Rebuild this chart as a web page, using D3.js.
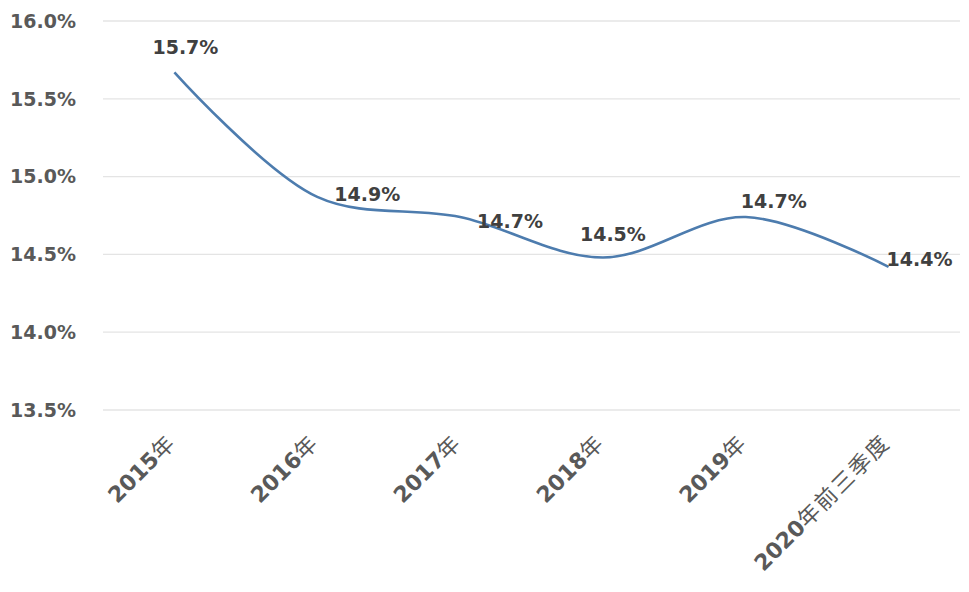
<!DOCTYPE html>
<html>
<head>
<meta charset="utf-8">
<script src="https://cdn.jsdelivr.net/npm/d3@7"></script>
<style>
  body { margin: 0; background: #fff; }
  text { font-family: "DejaVu Sans", "Noto Sans CJK SC", sans-serif; }
</style>
</head>
<body>
<div id="chart"></div>
<script>
// data
const categories = ['2015年', '2016年', '2017年', '2018年', '2019年', '2020年前三季度'];
const values = [15.67, 14.87, 14.74, 14.48, 14.74, 14.42];
const yTicks = [13.5, 14.0, 14.5, 15.0, 15.5, 16.0];

// label offsets from each point (label centre), as placed in the original
const labelDx = [11, 50, 50, 10, 28, 31];
const labelDy = [-25, -3, 4, -23, -16, -8];

/* Dimensions */
let width = 969, height = 592;
let plotLeft = 103, plotRight = 960, plotTop = 21, plotBottom = 410;

let svg = d3.select('#chart')
  .append('svg')
  .attr('width', width)
  .attr('height', height);

let x = d3.scaleBand()
  .domain(categories)
  .range([plotLeft, plotRight])
  .paddingInner(0);

let y = d3.scaleLinear()
  .domain([13.5, 16.0])
  .range([plotBottom, plotTop]);

let cx = d => x(d) + x.bandwidth() / 2;

// gridlines
svg.append('g')
  .selectAll('line')
  .data(yTicks)
  .enter().append('line')
  .attr('x1', plotLeft)
  .attr('x2', plotRight)
  .attr('y1', d => y(d))
  .attr('y2', d => y(d))
  .style('stroke', '#e4e4e4')
  .style('stroke-width', 1.3);

// y axis labels
svg.append('g')
  .selectAll('text')
  .data(yTicks)
  .enter().append('text')
  .attr('x', 76)
  .attr('y', d => y(d))
  .attr('dy', '0.36em')
  .attr('text-anchor', 'end')
  .style('font-size', '19px')
  .style('font-weight', 'bold')
  .style('fill', '#595959')
  .text(d => d.toFixed(1) + '%');

// x axis labels, rotated; digits bold, CJK part lighter
let xLabels = svg.append('g')
  .selectAll('text')
  .data(categories)
  .enter().append('text')
  .attr('transform', d => 'translate(' + (cx(d) + 3) + ',' + 444 + ') rotate(-45)')
  .attr('text-anchor', 'end')
  .style('font-size', '22px')
  .style('fill', '#595959');

xLabels.each(function (d) {
  let el = d3.select(this);
  let num = d.match(/^\d+/)[0];
  el.append('tspan').style('font-weight', 'bold').text(num);
  el.append('tspan')
    .style('font-weight', 'normal')
    .style('letter-spacing', '2px')
    .text(d.slice(num.length));
});

// line
let line = d3.line()
  .x((d, i) => cx(categories[i]))
  .y(d => y(d))
  .curve(d3.curveCatmullRom.alpha(0.5));

svg.append('path')
  .datum(values)
  .attr('d', line)
  .style('fill', 'none')
  .style('stroke', '#4d7cae')
  .style('stroke-width', 2.6);

// data labels
svg.append('g')
  .selectAll('text')
  .data(values)
  .enter().append('text')
  .attr('x', (d, i) => cx(categories[i]) + labelDx[i])
  .attr('y', (d, i) => y(d) + labelDy[i])
  .attr('dy', '0.36em')
  .attr('text-anchor', 'middle')
  .style('font-size', '19px')
  .style('font-weight', 'bold')
  .style('fill', '#404040')
  .text(d => d.toFixed(1) + '%');
</script>
</body>
</html>
